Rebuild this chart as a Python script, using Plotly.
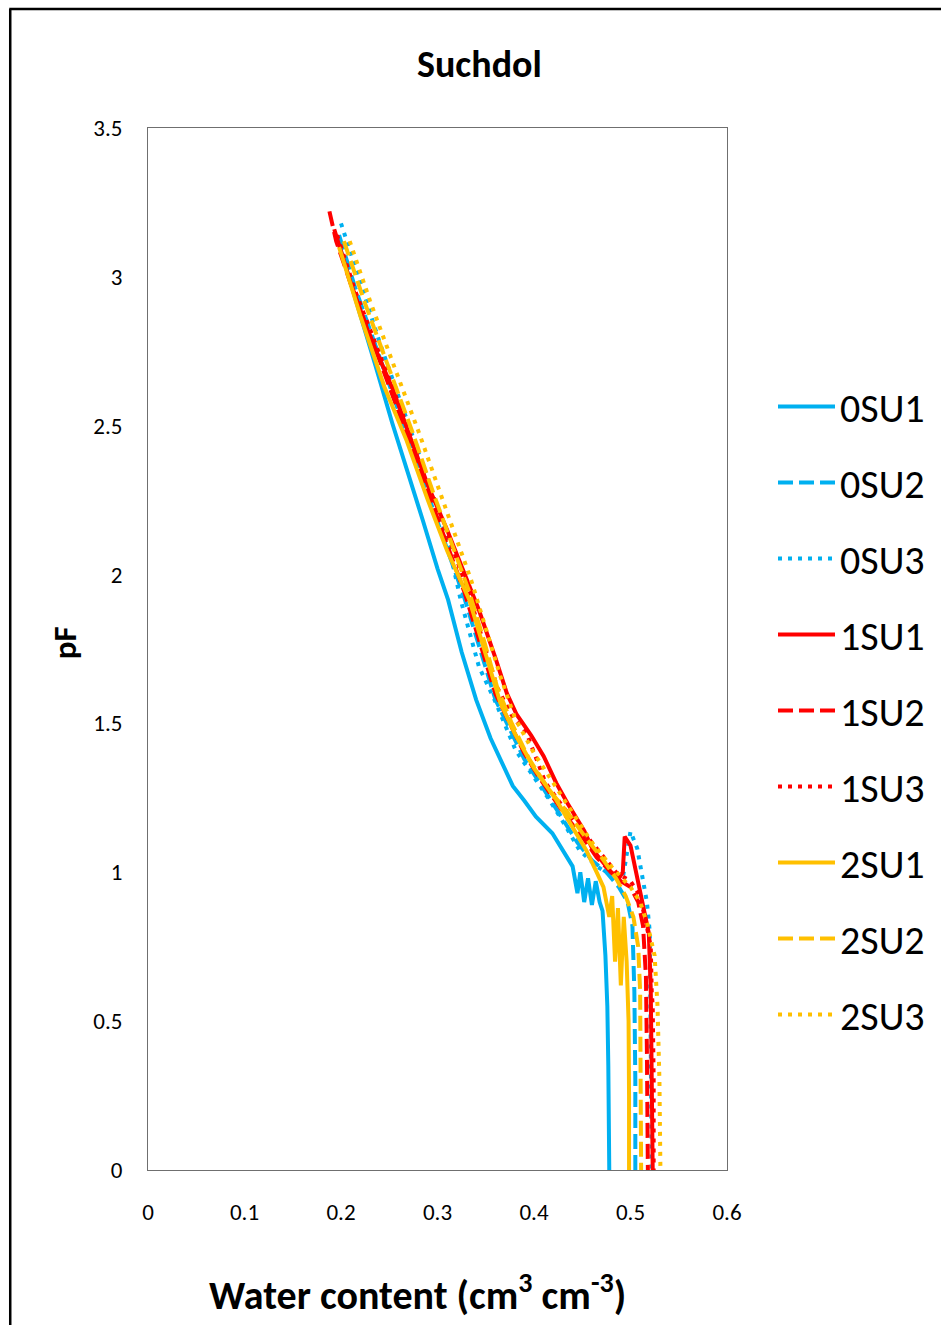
import plotly.graph_objects as go

# ---------------- data ----------------
names = ["0SU1", "0SU2", "0SU3", "1SU1", "1SU2", "1SU3", "2SU1", "2SU2", "2SU3"]

wc_0SU1 = [0.197, 0.215, 0.235, 0.253, 0.270, 0.285, 0.300, 0.311, 0.325, 0.340, 0.355, 0.368, 0.378, 0.390, 0.402, 0.419, 0.430, 0.440,
           0.445, 0.448, 0.452, 0.456, 0.460, 0.464, 0.468, 0.471, 0.474, 0.476, 0.477, 0.478, 0.478]
pf_0SU1 = [3.12, 2.93, 2.71, 2.51, 2.34, 2.18, 2.02, 1.915, 1.74, 1.58, 1.45, 1.355, 1.29, 1.24, 1.187, 1.131, 1.07, 1.02,
           0.93, 1.00, 0.90, 0.98, 0.89, 0.97, 0.90, 0.87, 0.72, 0.55, 0.35, 0.15, 0.0]

wc_0SU2 = [0.198, 0.215, 0.240, 0.265, 0.290, 0.310, 0.328, 0.345, 0.360, 0.375, 0.390, 0.410, 0.430, 0.445, 0.460, 0.475, 0.488,
           0.497, 0.502, 0.504, 0.505, 0.505]
pf_0SU2 = [3.14, 2.96, 2.73, 2.50, 2.27, 2.08, 1.92, 1.74, 1.58, 1.48, 1.38, 1.28, 1.18, 1.10, 1.04, 1.00, 0.95,
           0.90, 0.82, 0.60, 0.30, 0.0]

wc_0SU3 = [0.200, 0.219, 0.240, 0.265, 0.290, 0.310, 0.324, 0.343, 0.359, 0.381, 0.400, 0.416, 0.430, 0.447, 0.465, 0.480, 0.492,
           0.497, 0.500, 0.507, 0.513, 0.517, 0.520, 0.521, 0.522]
pf_0SU3 = [3.18, 2.99, 2.78, 2.55, 2.32, 2.12, 1.915, 1.69, 1.58, 1.41, 1.32, 1.243, 1.17, 1.075, 1.02, 0.99, 0.98,
           1.08, 1.137, 1.08, 0.98, 0.90, 0.80, 0.50, 0.0]

wc_1SU1 = [0.193, 0.210, 0.230, 0.254, 0.273, 0.290, 0.310, 0.325, 0.343, 0.360, 0.372, 0.382, 0.397, 0.410, 0.423, 0.435, 0.443,
           0.452, 0.461, 0.470, 0.480, 0.488, 0.492, 0.494, 0.500, 0.509, 0.515, 0.519, 0.521, 0.522, 0.523]
pf_1SU1 = [3.16, 2.98, 2.80, 2.62, 2.45, 2.30, 2.15, 2.03, 1.88, 1.72, 1.60, 1.53, 1.46, 1.39, 1.30, 1.23, 1.187,
           1.14, 1.075, 1.04, 1.00, 0.98, 1.00, 1.12, 1.09, 0.95, 0.85, 0.795, 0.60, 0.30, 0.0]

wc_1SU2 = [0.188, 0.195, 0.215, 0.240, 0.265, 0.290, 0.310, 0.328, 0.345, 0.360, 0.375, 0.390, 0.405, 0.420, 0.435, 0.450, 0.465,
           0.480, 0.490, 0.500, 0.508, 0.513, 0.516, 0.517, 0.518]
pf_1SU2 = [3.22, 3.12, 2.93, 2.72, 2.50, 2.28, 2.10, 1.94, 1.76, 1.60, 1.50, 1.40, 1.32, 1.25, 1.18, 1.12, 1.05,
           1.00, 0.97, 0.95, 0.90, 0.82, 0.65, 0.40, 0.0]

wc_1SU3 = [0.196, 0.215, 0.240, 0.265, 0.290, 0.310, 0.330, 0.347, 0.362, 0.378, 0.392, 0.412, 0.430, 0.450, 0.470, 0.485, 0.500,
           0.510, 0.518, 0.521, 0.522, 0.523, 0.524, 0.524]
pf_1SU3 = [3.14, 2.95, 2.74, 2.53, 2.31, 2.14, 1.96, 1.78, 1.62, 1.52, 1.47, 1.30, 1.22, 1.14, 1.06, 1.00, 0.97,
           0.92, 0.80, 0.75, 0.60, 0.55, 0.30, 0.0]

wc_2SU1 = [0.198, 0.220, 0.245, 0.268, 0.290, 0.310, 0.333, 0.350, 0.365, 0.380, 0.400, 0.423, 0.440, 0.454, 0.465, 0.472, 0.478,
           0.481, 0.484, 0.487, 0.490, 0.493, 0.496, 0.498, 0.4985, 0.4985]
pf_2SU1 = [3.10, 2.87, 2.63, 2.45, 2.25, 2.08, 1.915, 1.73, 1.57, 1.467, 1.35, 1.243, 1.15, 1.075, 1.00, 0.95, 0.85,
           0.92, 0.70, 0.88, 0.62, 0.85, 0.70, 0.50, 0.25, 0.0]

wc_2SU2 = [0.203, 0.225, 0.250, 0.275, 0.295, 0.315, 0.332, 0.348, 0.362, 0.377, 0.395, 0.415, 0.435, 0.455, 0.470, 0.485, 0.495,
           0.503, 0.508, 0.510, 0.511, 0.511]
pf_2SU2 = [3.12, 2.91, 2.69, 2.47, 2.28, 2.10, 1.95, 1.78, 1.62, 1.50, 1.38, 1.28, 1.20, 1.11, 1.05, 0.98, 0.92,
           0.85, 0.75, 0.60, 0.30, 0.0]

wc_2SU3 = [0.209, 0.230, 0.255, 0.281, 0.300, 0.320, 0.335, 0.350, 0.365, 0.380, 0.400, 0.420, 0.440, 0.460, 0.480, 0.500, 0.510,
           0.518, 0.525, 0.528, 0.530, 0.531]
pf_2SU3 = [3.12, 2.92, 2.70, 2.475, 2.30, 2.12, 1.98, 1.82, 1.66, 1.52, 1.40, 1.30, 1.20, 1.10, 1.02, 0.95, 0.90,
           0.82, 0.72, 0.55, 0.30, 0.0]

x_ticks = [0, 0.1, 0.2, 0.3, 0.4, 0.5, 0.6]
y_ticks = [0, 0.5, 1, 1.5, 2, 2.5, 3, 3.5]

series_x = [wc_0SU1, wc_0SU2, wc_0SU3, wc_1SU1, wc_1SU2, wc_1SU3, wc_2SU1, wc_2SU2, wc_2SU3]
series_y = [pf_0SU1, pf_0SU2, pf_0SU3, pf_1SU1, pf_1SU2, pf_1SU3, pf_2SU1, pf_2SU2, pf_2SU3]

# ---------------- styles ----------------
BLUE, RED, GOLD = "#00B0F0", "#FF0000", "#FFC000"
colors = [BLUE, BLUE, BLUE, RED, RED, RED, GOLD, GOLD, GOLD]
dashes = ["solid", "15px,6px", "4px,6px"] * 3
FONT = "Carlito, Calibri, Lato, Liberation Sans, sans-serif"

fig = go.Figure()
for i, name in enumerate(names):
    fig.add_trace(go.Scatter(
        x=series_x[i], y=series_y[i], name=name, mode="lines",
        legendgroup=name,
        line=dict(color=colors[i], width=4, dash=dashes[i]),
    ))

W, H = 941, 1325
L, R, T, B = 148, 213, 128, 155
pw, ph = W - L - R, H - T - B

def px(xp):
    return (xp - L) / pw

def py(yp):
    return (H - B - yp) / ph

axis_common = dict(showgrid=False, zeroline=False, showline=True, mirror=True,
                   linecolor="#6f6f6f", linewidth=1,
                   tickfont=dict(family=FONT, size=23, color="#000000"),
                   ticks="outside", tickcolor="rgba(0,0,0,0)")

fig.update_layout(
    width=W, height=H, autosize=False,
    margin=dict(l=L, r=R, t=T, b=B),
    plot_bgcolor="#ffffff", paper_bgcolor="#ffffff",
    showlegend=True,
    legend=dict(x=px(773), y=py(374), xanchor="left", yanchor="top",
                font=dict(family=FONT, size=40, color="#000000"),
                tracegroupgap=21, itemwidth=57, bgcolor="rgba(0,0,0,0)"),
    xaxis=dict(range=[0, 0.6], tickvals=x_ticks, ticktext=[str(v) for v in x_ticks], ticklen=21, **axis_common),
    yaxis=dict(range=[0, 3.5], tickvals=y_ticks, ticktext=[("%g" % v) for v in y_ticks], ticklen=20, **axis_common),
    annotations=[
        dict(text="<b>Suchdol</b>", x=px(480), y=py(64), xref="paper", yref="paper",
             showarrow=False, xanchor="center", yanchor="middle",
             font=dict(family=FONT, size=38, color="#000000")),
        dict(text="<b>pF</b>", x=px(65), y=py(643), xref="paper", yref="paper",
             showarrow=False, xanchor="center", yanchor="middle", textangle=-90,
             font=dict(family=FONT, size=33, color="#000000")),
        dict(text="<b>Water content (cm<sup>3</sup> cm<sup>-3</sup>)</b>", x=px(418), y=py(1292),
             xref="paper", yref="paper", showarrow=False, xanchor="center", yanchor="middle",
             font=dict(family=FONT, size=40, color="#000000")),
    ],
    shapes=[
        dict(type="line", xref="paper", yref="paper", x0=px(10), x1=px(10), y0=py(1330), y1=py(9),
             line=dict(color="#000000", width=2.5)),
        dict(type="line", xref="paper", yref="paper", x0=px(9), x1=px(945), y0=py(9), y1=py(9),
             line=dict(color="#000000", width=2.5)),
    ],
)

fig.write_html("out.html", config={"displayModeBar": False},
               post_script="document.body.style.margin='0px';document.body.style.overflow='hidden';")
